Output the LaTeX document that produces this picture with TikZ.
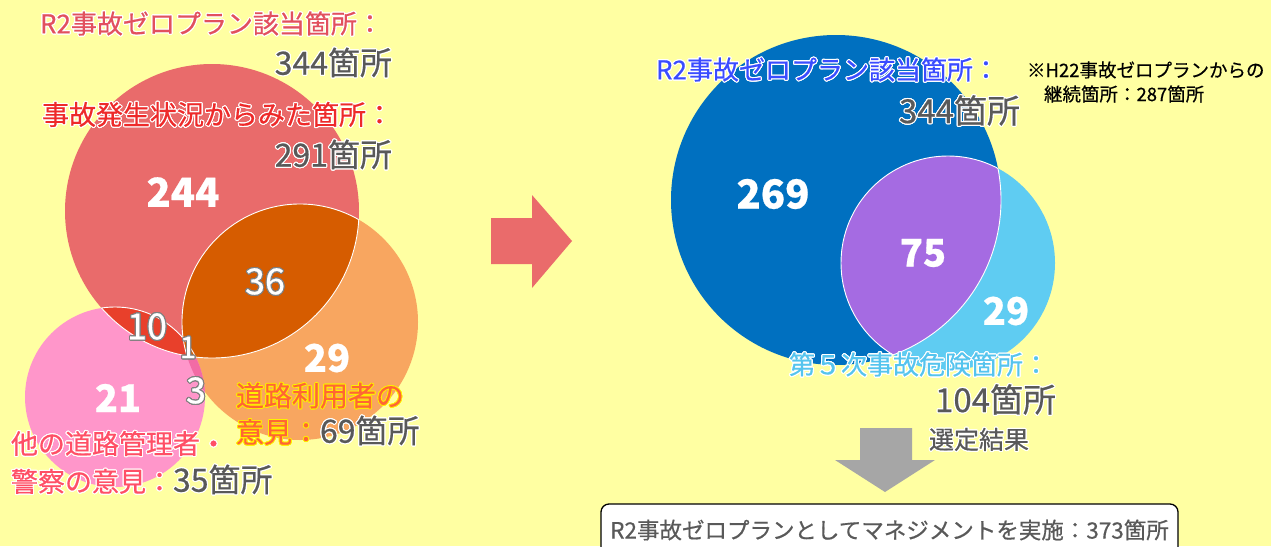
\documentclass[tikz,border=0pt]{standalone}
\usepackage{fontspec}
\setmainfont{Noto Sans CJK JP}[FakeBold=0.5]
\usepackage[copies]{contour}
\contourlength{1.1pt}
\definecolor{bg}{HTML}{FFFFA2}
\definecolor{cRed}{HTML}{E96B6B}
\definecolor{cOrange}{HTML}{F8A660}
\definecolor{cPink}{HTML}{FF96CA}
\definecolor{cLens}{HTML}{D65C00}
\definecolor{cTen}{HTML}{E8402B}
\definecolor{cPO}{HTML}{F26BA5}
\definecolor{cBlue}{HTML}{0070C0}
\definecolor{cLBlue}{HTML}{5FCCF2}
\definecolor{cPurple}{HTML}{A56BE2}
\definecolor{cArrR}{HTML}{EA6B6B}
\definecolor{cArrG}{HTML}{A6A6A6}
\definecolor{tRedA}{HTML}{E2505E}
\definecolor{tRedB}{HTML}{EE2A2A}
\definecolor{tOr}{HTML}{FF6633}
\definecolor{tPink}{HTML}{FF4F66}
\definecolor{tBlue}{HTML}{3A4CFF}
\definecolor{tLBlue}{HTML}{55C4EE}
\definecolor{tGray}{HTML}{595959}
\definecolor{tNum}{HTML}{808080}
\newcommand{\fsz}[1]{\fontsize{#1}{#1}\selectfont}
\newcommand{\wc}[1]{\contour{white}{#1}}
\begin{document}
\begin{tikzpicture}[x=1pt,y=-1pt,
  lbl/.style={inner sep=0pt, outer sep=0pt},
  bignum/.style={lbl, text=white, font=\fsz{40}\bfseries},
  midnum/.style={lbl, text=white, font=\fsz{38}\bfseries},
  thinnum/.style={lbl, text=white, font=\fsz{36}},
  cnt/.style={lbl, text=tGray, font=\fsz{32}},
  cline/.style={white, line width=0.9pt}]
\path[use as bounding box] (0,0) rectangle (1271,546);
\clip (0,0) rectangle (1271,546);
\fill[bg] (0,0) rectangle (1271,546);

% ---------- left Venn ----------
\coordinate (R) at (212,211);
\coordinate (O) at (300,322);
\coordinate (P) at (115,397);
\fill[cRed] (R) circle[radius=147pt];
\fill[cOrange] (O) circle[radius=118pt];
\fill[cPink] (P) circle[radius=90pt];
\begin{scope}
  \clip (R) circle[radius=147pt];
  \fill[cLens] (O) circle[radius=118pt];
  \fill[cTen] (P) circle[radius=90pt];
\end{scope}
\begin{scope}
  \clip (O) circle[radius=118pt];
  \fill[cPO] (P) circle[radius=90pt];
  \clip (R) circle[radius=147pt];
  \fill[cLens] (P) circle[radius=90pt];
\end{scope}
\begin{scope}
  \clip (R) circle[radius=147pt];
  \draw[cline] (O) circle[radius=118pt];
  \draw[cline] (P) circle[radius=90pt];
\end{scope}
\begin{scope}
  \clip (O) circle[radius=118pt];
  \draw[cline] (R) circle[radius=147pt];
\end{scope}
\begin{scope}
  \clip (P) circle[radius=90pt];
  \draw[cline] (R) circle[radius=147pt];
\end{scope}

\node[bignum] (n244) at (183,192) {244};
\node[thinnum] (n36) at (265,282) {\contour{tNum}{36}};
\node[thinnum] (n10) at (147,327) {\contour{tNum}{10}};
\node[lbl, text=white, font=\fsz{30}] (n1) at (188,348) {\contour{tNum}{1}};
\node[thinnum] (n3) at (196,391) {\contour{tNum}{3}};
\node[midnum] (n29a) at (327,358) {29};
\node[midnum] (n21) at (118,398) {21};

\node[lbl, anchor=west, text=tRedA, font=\fsz{26}] (t1) at (40,24) {\wc{R2事故ゼロプラン該当箇所：}};
\node[cnt, anchor=east] (t1n) at (392,63) {\wc{344箇所}};
\node[lbl, anchor=west, text=tRedB, font=\fsz{27}] (t2) at (42,115) {\wc{事故発生状況からみた箇所：}};
\node[cnt, anchor=east] (t2n) at (392,155) {\wc{291箇所}};
\node[lbl, anchor=west, text=tOr, font=\fsz{28}] (t3) at (236,396) {\contourlength{0.8pt}\contour{yellow}{道路利用者の}};
\node[lbl, anchor=west, font=\fsz{28}] (t3b) at (236,431) {{\color{tOr}\contourlength{0.8pt}\contour{yellow}{意見：}}{\color{tGray}\fsz{32}\wc{69箇所}}};
\node[lbl, anchor=west, text=tPink, font=\fsz{27}] (t4) at (11,444) {\wc{他の道路管理者・}};
\node[lbl, anchor=west, font=\fsz{27}] (t4b) at (11,480) {{\color{tPink}\wc{警察の意見：}}{\color{tGray}\fsz{32}\wc{35箇所}}};

% ---------- arrow ----------
\fill[cArrR] (491,218) -- (532,218) -- (532,195) -- (572,241) -- (532,288) -- (532,264) -- (491,264) -- cycle;

% ---------- right Venn ----------
\coordinate (B) at (836,200);
\coordinate (L) at (948,263);
\fill[cBlue] (B) circle[radius=165pt];
\fill[cLBlue] (L) circle[radius=107pt];
\begin{scope}
  \clip (B) circle[radius=165pt];
  \fill[cPurple] (L) circle[radius=107pt];
  \draw[cline] (L) circle[radius=107pt];
\end{scope}
\begin{scope}
  \clip (L) circle[radius=107pt];
  \draw[cline] (B) circle[radius=165pt];
\end{scope}

\node[bignum] (n269) at (773,194) {269};
\node[midnum] (n75) at (923,253) {75};
\node[midnum] (n29b) at (1006,311) {29};

\node[lbl, anchor=west, text=tBlue, font=\fsz{26}] (t5) at (656,70) {\wc{R2事故ゼロプラン該当箇所：}};
\node[cnt, anchor=east, font=\fsz{33}] (t5n) at (1020,111) {\wc{344箇所}};
\node[lbl, anchor=west, text=black, font=\fsz{18.5}] (t6) at (1027,70) {※H22事故ゼロプランからの};
\node[lbl, anchor=west, text=black, font=\fsz{18.5}] (t6b) at (1044,94) {継続箇所：287箇所};
\node[lbl, anchor=west, text=tLBlue, font=\fsz{26}] (t7) at (789,365) {\wc{第５次事故危険箇所：}};
\node[cnt, anchor=east, font=\fsz{33}] (t7n) at (1056,400) {\wc{104箇所}};
\node[lbl, anchor=west, text=tGray, font=\fsz{25}] (t8) at (929,440) {\wc{選定結果}};

% ---------- down arrow and result box ----------
\fill[cArrG] (860,428) -- (912,428) -- (912,460) -- (935,460) -- (885,492) -- (835,460) -- (860,460) -- cycle;
\draw[black, line width=1.3pt, fill=white, rounded corners=8pt] (601,504) rectangle (1178,566);
\node[lbl, text=tGray, font=\fsz{22.5}] (res) at (889.5,530) {R2事故ゼロプランとしてマネジメントを実施：373箇所};
\end{tikzpicture}
\end{document}
